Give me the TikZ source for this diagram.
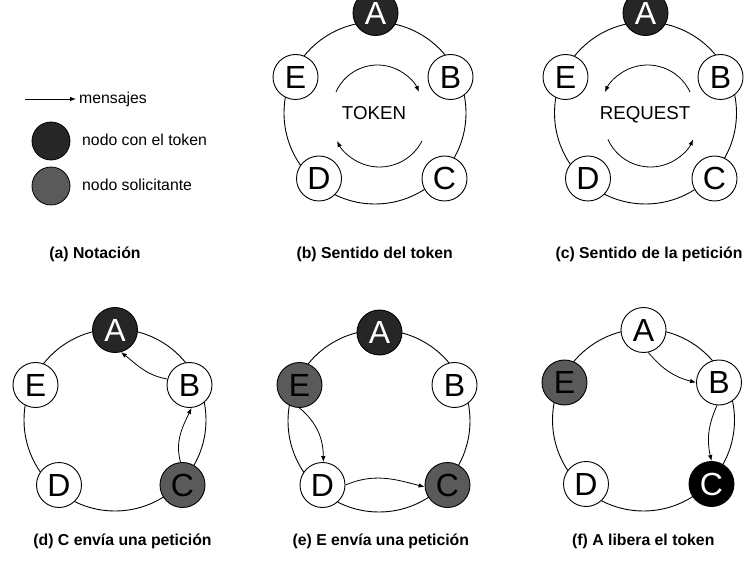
\documentclass[tikz,border=0pt]{standalone}
\usepackage{fontspec}
\setmainfont{Liberation Sans}
\usetikzlibrary{arrows.meta}
\definecolor{tokfill}{RGB}{38,38,38}
\definecolor{reqfill}{RGB}{90,90,90}
\begin{document}
\begin{tikzpicture}[x=1pt,y=1pt,
  nd/.style={circle, draw, line width=0.9pt, minimum size=45pt, inner sep=0pt, fill=white, font=\fontsize{32}{34}\selectfont},
  tok/.style={nd, fill=tokfill, text=white},
  req/.style={nd, fill=reqfill},
  blk/.style={nd, fill=black, text=white},
  ring/.style={line width=0.9pt},
  msg/.style={line width=0.8pt, -{Latex[length=6pt,width=4.5pt]}},
  captxt/.style={font=\fontsize{15.8}{18}\selectfont\bfseries, anchor=base, inner sep=0pt},
  lbl/.style={font=\fontsize{15.8}{18}\selectfont, anchor=base west, inner sep=0pt},
  bigtxt/.style={font=\fontsize{18.7}{20}\selectfont, inner sep=0pt, anchor=base}
]
\useasboundingbox (0,0) rectangle (750,-577);

% ---------- (a) legend ----------
\coordinate (m0) at (25,-99);
\node[lbl] (mens) at (79,-103.3) {mensajes};
\draw[msg] (m0) -- (76,-99);
\node[circle, draw, line width=0.8pt, fill=tokfill, minimum size=38pt, inner sep=0pt] (lt) at (51,-141) {};
\node[lbl] (ltt) at (82,-146) {nodo con el token};
\node[circle, draw, line width=0.8pt, fill=reqfill, minimum size=38pt, inner sep=0pt] (lr) at (51,-186) {};
\node[lbl] (lrt) at (82,-190.7) {nodo solicitante};
\node[captxt] (capa) at (95,-258.3) {(a) Notación};

% ---------- (b) ----------
\draw[ring] (375,-113) circle[radius=91];
\node[tok] (bA) at (375.5,-13) {A};
\node[nd] (bB) at (450.5,-77) {B};
\node[nd] (bE) at (295.5,-77) {E};
\node[nd] (bD) at (319,-178.5) {D};
\node[nd] (bC) at (444.5,-178.5) {C};
\draw[msg] ([shift={(156:45.4)}]377.5,-110.4) arc[start angle=156, end angle=24, radius=45.4];
\draw[msg] ([shift={(-27:47.7)}]379.5,-119.3) arc[start angle=-27, end angle=-153, radius=47.7];
\node[bigtxt] (tokt) at (374,-119.5) {TOKEN};
\node[captxt] (capb) at (374.7,-258.3) {(b) Sentido del token};

% ---------- (c) ----------
\draw[ring] (645.5,-113) circle[radius=91];
\node[tok] (cA) at (645.5,-13) {A};
\node[nd] (cB) at (720.5,-77) {B};
\node[nd] (cE) at (565.5,-77) {E};
\node[nd] (cD) at (588,-178.5) {D};
\node[nd] (cC) at (714.5,-178.5) {C};
\draw[msg] ([shift={(25:47)}]647.5,-112) arc[start angle=25, end angle=155, radius=47];
\draw[msg] ([shift={(-156:46.6)}]650.5,-120.4) arc[start angle=-156, end angle=-24, radius=46.6];
\node[bigtxt] (reqt) at (645,-119.5) {REQUEST};
\node[captxt] (capc) at (649,-258.3) {(c) Sentido de la petición};

% ---------- (d) ----------
\draw[ring] (115,-420) circle[radius=91];
\node[tok] (dA) at (115,-330) {A};
\node[nd] (dB) at (189.5,-385) {B};
\node[nd] (dE) at (35.5,-385) {E};
\node[nd] (dD) at (59,-485) {D};
\node[req] (dC) at (182.5,-485) {C};
\draw[msg] (dB.165) to[out=170,in=-38] (dA.-75);
\draw[msg] (dC.95) to[out=105,in=-115] (dB.-85);
\node[captxt] (capd) at (122.5,-545) {(d) C envía una petición};

% ---------- (e) ----------
\draw[ring] (379,-421) circle[radius=91];
\node[tok] (eA) at (379.5,-332.5) {A};
\node[nd] (eB) at (454.5,-385) {B};
\node[req] (eE) at (299.5,-385) {E};
\node[nd] (eD) at (322.5,-485) {D};
\node[req] (eC) at (447.5,-485) {C};
\draw[msg] (eE.-90) to[out=-40,in=90] (eD.88);
\draw[msg] (eD.0) to[out=23,in=165] (eC.185);
\node[captxt] (cape) at (380.8,-545) {(e) E envía una petición};

% ---------- (f) ----------
\draw[ring] (643.5,-420) circle[radius=91];
\node[nd] (fA) at (643.5,-330) {A};
\node[nd] (fB) at (719,-382.5) {B};
\node[req] (fE) at (564.5,-382.5) {E};
\node[nd] (fD) at (586,-484) {D};
\node[blk] (fC) at (711.5,-484) {C};
\draw[msg] (fA.-78) to[out=-50,in=166] (fB.180);
\draw[msg] (fB.-95) to[out=-114,in=103] (fC.90);
\node[captxt] (capf) at (643.3,-545) {(f) A libera el token};
\end{tikzpicture}
\end{document}
